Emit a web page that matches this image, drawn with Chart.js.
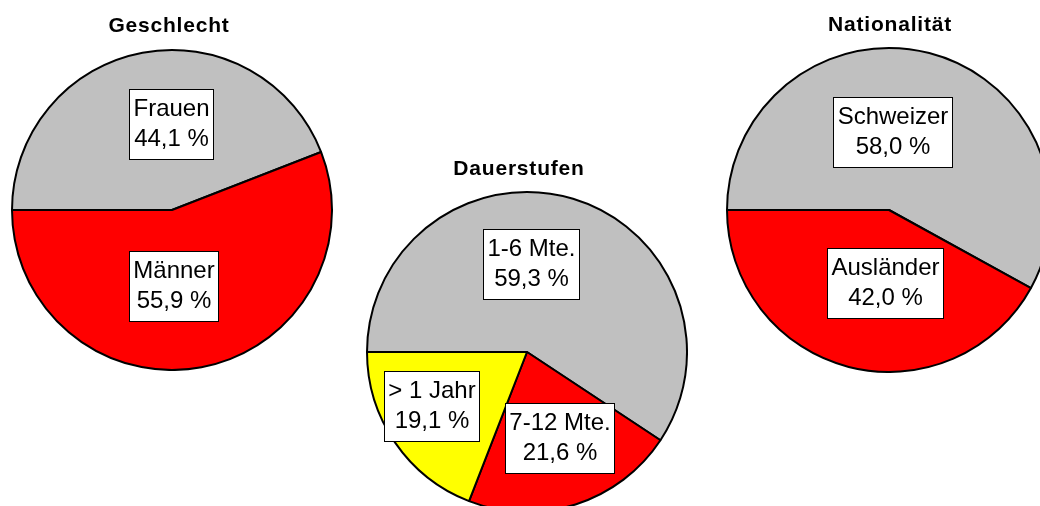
<!DOCTYPE html>
<html>
<head>
<meta charset="utf-8">
<script src="https://cdn.jsdelivr.net/npm/chart.js@4.4.0/dist/chart.umd.min.js"></script>
<style>
  html, body { margin:0; padding:0; width:1040px; height:506px; overflow:hidden; background:#fff; }
  .pie { position:absolute; }
</style>
</head>
<body>

<div class="pie" style="left:11px;top:0px;width:322px;height:371px;"><canvas id="geschlecht"></canvas></div>
<div class="pie" style="left:366px;top:143px;width:322px;height:370px;"><canvas id="dauer"></canvas></div>
<div class="pie" style="left:726px;top:0px;width:326px;height:373px;"><canvas id="nation"></canvas></div>

<script>
// values in percent
var geschlechtLabels = ['Frauen', 'Männer'];
var geschlechtValues = [44.1, 55.9];

var dauerLabels = ['1-6 Mte.', '7-12 Mte.', '> 1 Jahr'];
var dauerValues = [59.3, 21.6, 19.1];

var nationLabels = ['Schweizer', 'Ausländer'];
var nationValues = [58.0, 42.0];

var GREY = '#c0c0c0', RED = '#ff0000', YELLOW = '#ffff00';

Chart.defaults.font.family = '"Liberation Sans", Arial, sans-serif';
Chart.defaults.color = '#000';

function fmt(v) {
  return v.toFixed(1).replace('.', ',') + ' %';
}

// title drawn a bit wider and nudged sideways, like the original
var titleTweak = {
  id: 'titleTweak',
  beforeDraw: function(chart, args, opts) {
    chart.ctx.save();
    chart.ctx.letterSpacing = '0.8px';
    chart.ctx.translate(opts.shift || 0, 0);
  },
  beforeDatasetsDraw: function(chart) {
    chart.ctx.restore();
  }
};

// white framed label boxes with name and percentage
var boxLabels = {
  id: 'boxLabels',
  afterDatasetsDraw: function(chart, args, opts) {
    var ctx = chart.ctx;
    var ds = chart.data.datasets[0];
    var arcs = chart.getDatasetMeta(0).data;
    ctx.save();
    ctx.letterSpacing = '0px';
    ctx.font = '24px "Liberation Sans", Arial, sans-serif';
    ctx.textAlign = 'center';
    ctx.textBaseline = 'middle';
    arcs.forEach(function(arc, i) {
      var p = arc.getProps(['x', 'y', 'startAngle', 'endAngle', 'outerRadius']);
      var mid = (p.startAngle + p.endAngle) / 2;
      var nudge = (opts.nudge && opts.nudge[i]) || [0, 0];
      var cx = p.x + Math.cos(mid) * p.outerRadius * opts.radius + nudge[0];
      var cy = p.y + Math.sin(mid) * p.outerRadius * opts.radius + nudge[1];
      var lines = [chart.data.labels[i], fmt(ds.data[i])];
      var tw = Math.max.apply(null, lines.map(function(t) { return ctx.measureText(t).width; }));
      var w = Math.round(tw + 2 * opts.padX);
      var h = lines.length * opts.lineHeight + 2 * opts.padY;
      var x0 = Math.round(cx - w / 2) + 0.5, y0 = Math.round(cy - h / 2) + 0.5;
      ctx.fillStyle = '#fff';
      ctx.fillRect(x0, y0, w, h);
      ctx.strokeStyle = '#000';
      ctx.lineWidth = 1;
      ctx.strokeRect(x0, y0, w, h);
      ctx.fillStyle = '#000';
      lines.forEach(function(t, k) {
        ctx.fillText(t, x0 + w / 2, y0 + opts.padY + opts.lineHeight * (k + 0.5));
      });
    });
    ctx.restore();
  }
};

function makePie(id, title, labels, values, colors, titlePad, titleShift, nudge) {
  return new Chart(document.getElementById(id), {
    type: 'pie',
    data: {
      labels: labels,
      datasets: [{
        data: values,
        backgroundColor: colors,
        borderColor: '#000',
        borderWidth: 2,
        hoverOffset: 0
      }]
    },
    options: {
      responsive: true,
      maintainAspectRatio: false,
      animation: false,
      rotation: 270,
      layout: { padding: 0 },
      events: [],
      plugins: {
        legend: { display: false },
        tooltip: { enabled: false },
        title: {
          display: true,
          text: title,
          font: { size: 21, weight: 'bold', lineHeight: 1.2 },
          color: '#000',
          padding: titlePad
        },
        titleTweak: { shift: titleShift },
        boxLabels: { radius: 0.55, padX: 4, padY: 5, lineHeight: 30, nudge: nudge }
      }
    },
    plugins: [titleTweak, boxLabels]
  });
}

makePie('geschlecht', 'Geschlecht', geschlechtLabels, geschlechtValues,
  [GREY, RED], { top: 14, bottom: 9.8 }, -3, [[15, 0], [-15, -10]]);

makePie('dauer', 'Dauerstufen', dauerLabels, dauerValues,
  [GREY, RED, YELLOW], { top: 13.5, bottom: 9.3 }, -8, [[-21, -4], [6, 2], [-23, 4]]);

makePie('nation', 'Nationalität', nationLabels, nationValues,
  [GREY, RED], { top: 13, bottom: 8.8 }, 1, [[-19, 8], [18, -13]]);
</script>
</body>
</html>
